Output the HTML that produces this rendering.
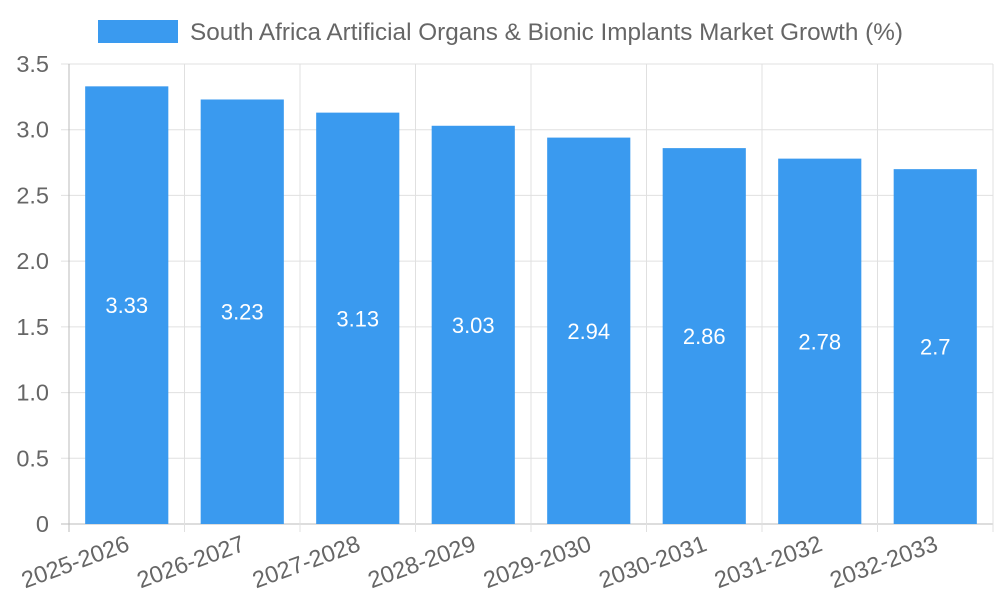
<!DOCTYPE html>
<html><head><meta charset="utf-8"><style>
body{margin:0;background:#fff;}
svg{display:block;font-family:"Liberation Sans",sans-serif;}
</style></head><body>
<svg id="chart" width="1000" height="600"></svg>
<script>
const categories=["2025-2026","2026-2027","2027-2028","2028-2029","2029-2030","2030-2031","2031-2032","2032-2033"];
const growthValues=[3.33,3.23,3.13,3.03,2.94,2.86,2.78,2.7];
const yTickValues=[0,0.5,1,1.5,2,2.5,3,3.5];
const yTickLabels=["0","0.5","1.0","1.5","2.0","2.5","3.0","3.5"];
const seriesLabel="South Africa Artificial Organs & Bionic Implants Market Growth (%)";

const NS="http://www.w3.org/2000/svg";
const svg=document.getElementById('chart');
const L=69,R=993,T=64,B=524,yMax=3.5;
const bw=(R-L)/categories.length;
const y=v=>B-(v/yMax)*(B-T);
const x=i=>L+i*bw;
function mk(tag,attrs,parent){const e=document.createElementNS(NS,tag);for(const k in attrs)e.setAttribute(k,attrs[k]);(parent||svg).appendChild(e);return e;}

const grid=mk('g',{});


yTickValues.forEach((v,i)=>{
  mk('line',{x1:L-8,x2:R,y1:y(v),y2:y(v),stroke:i===0?'#bbb':'#e0e0e0','stroke-width':1},grid);
  const t=mk('text',{x:L-20,y:y(v)+8,'text-anchor':'end','font-size':23.5,fill:'#666'});
  t.textContent=yTickLabels[i];
  
  
});
for(let i=0;i<=categories.length;i++){
  mk('line',{x1:x(i),x2:x(i),y1:T,y2:B+8,stroke:i===0?'#bbb':'#e0e0e0','stroke-width':1},grid);
}
categories.forEach((c,i)=>{
  const cx=x(i)+bw/2;
  const bh=bw*0.72;
  const r=mk('rect',{x:cx-bh/2,y:y(growthValues[i]),width:bh,height:B-y(growthValues[i]),fill:'#3a9aef'});
  
  
  const vt=mk('text',{x:cx,y:(y(growthValues[i])+B)/2+8,'text-anchor':'middle','font-size':22,fill:'#fff'});
  vt.textContent=String(growthValues[i]);
  
  
  const lt=mk('text',{x:0,y:0,'text-anchor':'end','font-size':23.5,fill:'#666',transform:`translate(${cx+4},${B+26}) rotate(-20)`});
  lt.textContent=c;
  
  
});
const lg=mk('g',{});


mk('rect',{x:98,y:20,width:80,height:23,fill:'#3a9aef'},lg);
const ltx=mk('text',{x:190,y:40,'font-size':24.3,fill:'#666'},lg);
ltx.textContent=seriesLabel;
</script>
</body></html>
